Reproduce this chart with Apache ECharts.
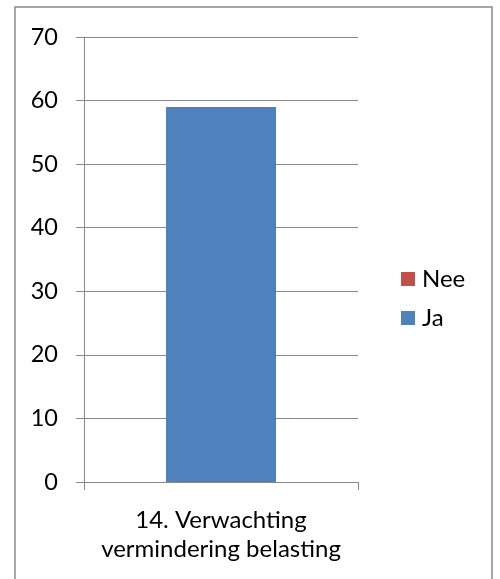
<!DOCTYPE html>
<html>
<head>
<meta charset="utf-8">
<script src="https://cdn.jsdelivr.net/npm/echarts@6/dist/echarts.min.js"></script>
<style>
html,body{margin:0;padding:0;background:#fff;}
#chart{width:500px;height:579px;}
</style>
</head>
<body>
<div id="chart"></div>
<script>
var categories = ['14. Verwachting\nvermindering belasting'];
var jaValues = [59];
var neeValues = [0];
var yTicks = [0, 10, 20, 30, 40, 50, 60, 70];

var FONT = 'Lato';
var chart = echarts.init(document.getElementById('chart'), null, {renderer: 'canvas'});
chart.setOption({
  animation: false,
  backgroundColor: '#fff',
  graphic: [{
    type: 'rect',
    shape: {x: 15, y: 7, width: 477, height: 600},
    style: {fill: 'none', stroke: '#8a8a8a', lineWidth: 1.5},
    silent: true
  }],
  grid: {left: 84, right: 142, top: 37, bottom: 97},
  legend: {
    orient: 'vertical',
    left: 396,
    top: 262,
    itemWidth: 14,
    itemHeight: 14,
    itemGap: 15,
    icon: 'rect',
    data: ['Nee', 'Ja'],
    textStyle: {fontFamily: FONT, fontSize: 24, color: '#000', padding: [0, 0, 0, 2]}
  },
  xAxis: {
    type: 'category',
    data: categories,
    axisLine: {lineStyle: {color: '#888', width: 1}},
    axisTick: {show: true, length: 8, lineStyle: {color: '#888'}},
    axisLabel: {fontFamily: FONT, fontSize: 24, color: '#000', lineHeight: 29, margin: 24}
  },
  yAxis: {
    type: 'value',
    min: yTicks[0],
    max: yTicks[yTicks.length - 1],
    interval: 10,
    axisLine: {show: true, lineStyle: {color: '#888', width: 1}},
    axisTick: {show: true, length: 8, lineStyle: {color: '#888'}},
    splitLine: {lineStyle: {color: '#888', width: 1}},
    axisLabel: {fontFamily: FONT, fontSize: 23.5, color: '#000', margin: 26}
  },
  series: [
    {name: 'Ja', type: 'bar', stack: 'total', data: jaValues, barWidth: 110, itemStyle: {color: '#4F81BD'}},
    {name: 'Nee', type: 'bar', stack: 'total', data: neeValues, barWidth: 110, itemStyle: {color: '#C0504D'}}
  ]
});
</script>
</body>
</html>
